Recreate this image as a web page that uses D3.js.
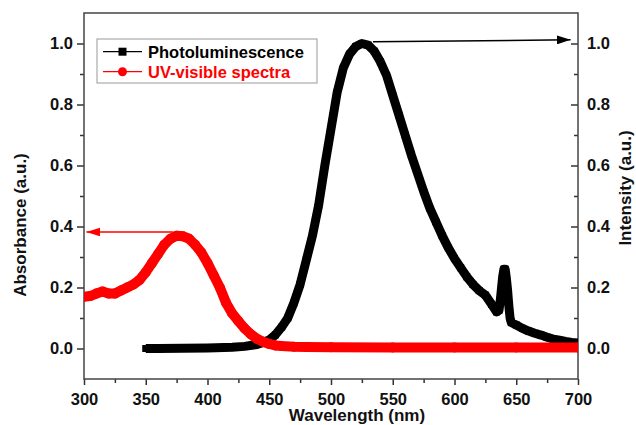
<!DOCTYPE html>
<html>
<head>
<meta charset="utf-8">
<script src="https://cdn.jsdelivr.net/npm/d3@7"></script>
<style>
body{margin:0;background:#fff;}
svg text{font-family:"Liberation Sans",Arial,sans-serif;font-weight:bold;}
</style>
</head>
<body>
<div class="chart"></div>
<script>
// photoluminescence (right axis)
const plWavelength = [350,360,380,400,420,430,440,445,
    450,455,460,465,470,475,480,485,490,495,500,505,510,515,520,525,530,535,540,545,550,555,560,565,570,575,580,585,590,595,600,605,610,615,620,625,630,
    634,636,637,638,639,640,641,642,643,644,645,646,
    650,655,660,665,670,675,680,685,690,695,700];
const plIntensity = [0,0,0.001,0.002,0.004,0.007,0.013,0.02,
    0.028,0.045,0.07,0.1,0.15,0.21,0.29,0.37,0.47,0.6,0.72,0.84,0.92,0.965,0.99,1.0,0.995,0.975,0.94,0.895,0.83,0.765,0.7,0.635,0.575,0.515,0.46,0.415,0.37,0.33,0.295,0.265,0.235,0.21,0.19,0.175,0.145,
    0.12,0.125,0.155,0.195,0.235,0.26,0.26,0.23,0.19,0.14,0.1,0.085,
    0.077,0.066,0.057,0.05,0.044,0.037,0.031,0.027,0.023,0.02,0.018];

// uv-visible absorbance (left axis)
const uvWavelength = [300,305,310,315,320,325,330,335,340,345,350,355,360,365,370,375,380,385,390,395,
    400,405,410,415,420,425,430,435,440,445,450,455,460,470,480,500,550,600,650,700];
const uvAbsorbance = [0.17,0.172,0.18,0.187,0.18,0.18,0.19,0.2,0.21,0.225,0.25,0.28,0.31,0.34,0.36,0.37,0.368,0.36,0.34,0.315,
    0.28,0.24,0.2,0.15,0.115,0.09,0.066,0.047,0.032,0.022,0.015,0.01,0.008,0.006,0.005,0.004,0.003,0.003,0.003,0.003];

const xTickValues = [300,350,400,450,500,550,600,650,700];
const xMinorTicks = [325,375,425,475,525,575,625,675];
const yTickValues = [0,0.2,0.4,0.6,0.8,1.0];
const yMinorTicks = [0.1,0.3,0.5,0.7,0.9];

const seriesNames = ["Photoluminescence","UV-visible spectra"];
const seriesColors = ["#000000","#ff0000"];

// annotation arrows [wavelength, value]
const uvArrow = [[372,0.382],[302,0.382]];
const plArrow = [[534,1.006],[694,1.012]];

const W = 636, H = 425;
const margin = {top:13, right:58, bottom:46, left:84};
const width = W - margin.left - margin.right;
const height = H - margin.top - margin.bottom;

const svg = d3.select(".chart")
    .append("svg")
    .attr("width", W)
    .attr("height", H);

const g = svg.append("g")
    .attr("transform", `translate(${margin.left},${margin.top})`);

const x = d3.scaleLinear().domain([300,700]).range([0,width]);
const y = d3.scaleLinear().domain([-0.1,1.1]).range([height,0]);

const defs = svg.append("defs");
defs.append("clipPath").attr("id","plot")
    .append("rect").attr("width",width).attr("height",height);

[["headBlack","#000"],["headRed","#ff0000"]].forEach(([id,c])=>{
    defs.append("marker")
        .attr("id",id)
        .attr("markerUnits","userSpaceOnUse")
        .attr("markerWidth",15).attr("markerHeight",9)
        .attr("refX",14).attr("refY",4.5)
        .attr("orient","auto")
        .append("path")
        .attr("d","M0,0 L14,4.5 L0,9 Z")
        .attr("fill",c);
});

// axes
function styleAxis(sel){
    sel.select(".domain").remove();
    sel.selectAll("line").attr("stroke","#333").attr("stroke-width",1.5);
    sel.selectAll("text").attr("fill","#111").style("font-size","16.5px");
}

g.append("g")
    .attr("transform",`translate(0,${height})`)
    .call(d3.axisBottom(x).tickValues(xTickValues).tickSize(6).tickPadding(8).tickFormat(d3.format("d")))
    .call(styleAxis);
g.append("g")
    .attr("transform",`translate(0,${height})`)
    .call(d3.axisBottom(x).tickValues(xMinorTicks).tickSize(4).tickFormat(""))
    .call(styleAxis);

g.append("g")
    .call(d3.axisLeft(y).tickValues(yTickValues).tickSize(7).tickPadding(4).tickFormat(d3.format(".1f")))
    .call(styleAxis);
g.append("g")
    .call(d3.axisLeft(y).tickValues(yMinorTicks).tickSize(4).tickFormat(""))
    .call(styleAxis);

g.append("g")
    .attr("transform",`translate(${width},0)`)
    .call(d3.axisRight(y).tickValues(yTickValues).tickSize(-7).tickPadding(9).tickFormat(d3.format(".1f")))
    .call(styleAxis);
g.append("g")
    .attr("transform",`translate(${width},0)`)
    .call(d3.axisRight(y).tickValues(yMinorTicks).tickSize(-4).tickFormat(""))
    .call(styleAxis);

g.append("rect")
    .attr("width",width)
    .attr("height",height)
    .attr("fill","none")
    .attr("stroke","#444")
    .attr("stroke-width",1.5);

// series
const plot = g.append("g").attr("clip-path","url(#plot)");

const plData = plWavelength.map((w,i)=>[w,plIntensity[i]]);
const uvData = uvWavelength.map((w,i)=>[w,uvAbsorbance[i]]);

const line = d3.line().x(d=>x(d[0])).y(d=>y(d[1]));

plot.append("path")
    .datum(plData)
    .attr("d",line)
    .attr("fill","none")
    .attr("stroke","#000")
    .attr("stroke-width",9)
    .attr("stroke-linejoin","round");

plot.selectAll(".pl")
    .data(plData)
    .enter()
    .append("rect")
    .attr("class","pl")
    .attr("x",d=>x(d[0])-3.5)
    .attr("y",d=>y(d[1])-3.5)
    .attr("width",7)
    .attr("height",7)
    .attr("fill","#000");

plot.append("path")
    .datum(uvData)
    .attr("d",line)
    .attr("fill","none")
    .attr("stroke","#ff0000")
    .attr("stroke-width",10)
    .attr("stroke-linejoin","round");

plot.selectAll(".uv")
    .data(uvData)
    .enter()
    .append("circle")
    .attr("class","uv")
    .attr("cx",d=>x(d[0]))
    .attr("cy",d=>y(d[1]))
    .attr("r",5)
    .attr("fill","#ff0000");

// arrows
g.append("line")
    .attr("x1",x(plArrow[0][0])).attr("y1",y(plArrow[0][1]))
    .attr("x2",x(plArrow[1][0])).attr("y2",y(plArrow[1][1]))
    .attr("stroke","#000").attr("stroke-width",1.5)
    .attr("marker-end","url(#headBlack)");

g.append("line")
    .attr("x1",x(uvArrow[0][0])).attr("y1",y(uvArrow[0][1]))
    .attr("x2",x(uvArrow[1][0])).attr("y2",y(uvArrow[1][1]))
    .attr("stroke","#ff0000").attr("stroke-width",1.5)
    .attr("marker-end","url(#headRed)");

// legend
const legend = svg.append("g").attr("transform","translate(97,39)");
legend.append("rect")
    .attr("width",220).attr("height",44)
    .attr("fill","#fff").attr("stroke","#999").attr("stroke-width",1);

seriesNames.forEach((name,i)=>{
    const row = legend.append("g").attr("transform",`translate(0,${12.7 + i*20})`);
    row.append("line")
        .attr("x1",6).attr("x2",45)
        .attr("stroke",seriesColors[i]).attr("stroke-width",1.2);
    if(i===0){
        row.append("rect").attr("x",21.5).attr("y",-4).attr("width",8).attr("height",8).attr("fill",seriesColors[i]);
    }else{
        row.append("circle").attr("cx",25.5).attr("r",4.5).attr("fill",seriesColors[i]);
    }
    row.append("text")
        .attr("x",51).attr("y",6)
        .attr("fill",seriesColors[i])
        .style("font-size","16.5px")
        .text(name);
});

// axis titles
svg.append("text")
    .attr("x",357).attr("y",421)
    .attr("text-anchor","middle")
    .style("font-size","17px")
    .attr("fill","#111")
    .text("Wavelength (nm)");

svg.append("text")
    .attr("transform","translate(26,225) rotate(-90)")
    .attr("text-anchor","middle")
    .style("font-size","17px")
    .attr("fill","#111")
    .text("Absorbance (a.u.)");

svg.append("text")
    .attr("transform","translate(631,188) rotate(-90)")
    .attr("text-anchor","middle")
    .style("font-size","17px")
    .attr("fill","#111")
    .text("Intensity (a.u.)");
</script>
</body>
</html>
